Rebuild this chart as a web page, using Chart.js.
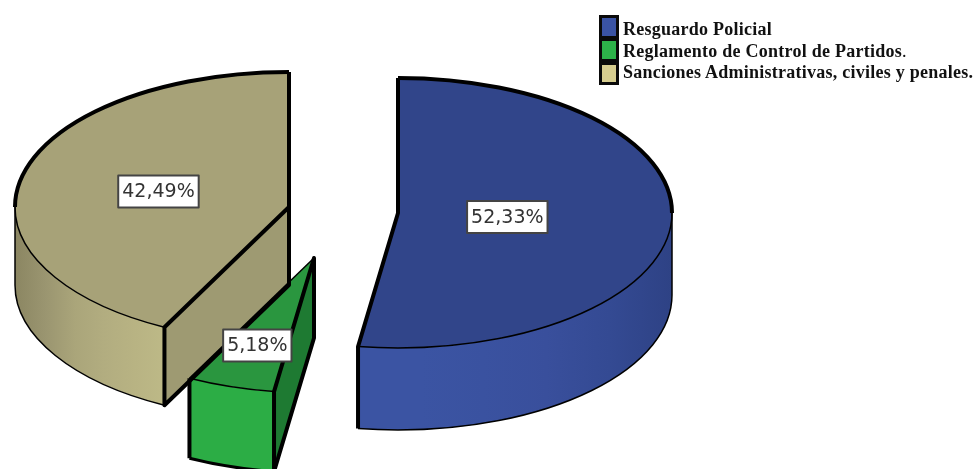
<!DOCTYPE html>
<html>
<head>
    <script src="https://cdn.jsdelivr.net/npm/chart.js@4"></script>
    <style>
        html, body { margin: 0; padding: 0; background: #fff; }
        #wrap { position: relative; width: 977px; height: 469px; overflow: hidden; filter: blur(0.45px); }
        #legend { position: absolute; left: 623px; top: 19px; font: bold 18px "Liberation Serif", serif; letter-spacing: 0.25px; color: #111; }
        #legend div { height: 21.7px; line-height: 21.7px; white-space: nowrap; }
        #legend span { font-weight: normal; }
        #swatches { position: absolute; left: 599px; top: 15px; }
        #swatches i { display: block; box-sizing: border-box; width: 20px; height: 23.5px; margin-bottom: -0.2px; border: 3.5px solid #0a0a0a; }
    </style>
</head>
<body>
    <div id="wrap">
        <canvas id="pieChart" width="977" height="469"></canvas>
        <div id="swatches"></div>
        <div id="legend"></div>
    </div>

    <script>
        const categories = ['Resguardo Policial', 'Reglamento de Control de Partidos', 'Sanciones Administrativas, civiles y penales.'];
        const legendTail = ['', '.', ''];
        const values = [52.33, 5.18, 42.49];
        const valueLabels = ['52,33%', '5,18%', '42,49%'];

        const topColors = ['#31458a', '#2a963f', '#a7a278'];
        const legendColors = ['#3a53a4', '#2db34a', '#d6cd8f'];
        const sideColors = ['#2e4285', '#1e7a32', '#9e9a72'];
        const wallColors = [
            ['#3b54a3', '#3b54a3', '#3a52a0', '#394f9c', '#344a93', '#2e4285'],
            ['#2cad45', '#2cad45'],
            ['#8b8662', '#9a9570', '#aaa57a', '#b2ad80', '#b8b383', '#bdb987']
        ];

        // 3d look
        const pullX = [54.5, -29.5, -54.5];
        const pullY = [2, 47, -4];
        const squash = 135 / 274;
        const depths = [82, 80, 78];
        const labelRadius = [0.40, 0.68, 0.49];

        const pie3d = {
            id: 'pie3d',
            beforeDatasetDraw(chart) {
                const ctx = chart.ctx;
                const arcs = chart.getDatasetMeta(0).data;
                const order = [2, 1, 0];

                const center = i => [arcs[i].x + pullX[i], arcs[i].y + pullY[i]];
                const pt = (i, ang) => {
                    const [cx, cy] = center(i);
                    const r = arcs[i].outerRadius;
                    return [cx + r * Math.cos(ang), cy + r * squash * Math.sin(ang)];
                };
                const line = (pts, w) => {
                    ctx.beginPath();
                    pts.forEach((p, n) => n ? ctx.lineTo(p[0], p[1]) : ctx.moveTo(p[0], p[1]));
                    ctx.lineWidth = w;
                    ctx.lineJoin = 'round';
                    ctx.strokeStyle = '#000';
                    ctx.stroke();
                };
                const edge = (i, a1, a2, drop, w) => {
                    const [cx, cy] = center(i);
                    const r = arcs[i].outerRadius;
                    ctx.beginPath();
                    ctx.ellipse(cx, cy + drop, r, r * squash, 0, a1, a2);
                    ctx.lineWidth = w;
                    ctx.strokeStyle = '#000';
                    ctx.stroke();
                };
                const frontPart = i => [Math.max(arcs[i].startAngle, 0), Math.min(arcs[i].endAngle, Math.PI)];

                // side faces
                order.forEach(i => {
                    const el = arcs[i];
                    const [cx, cy] = center(i);
                    const r = el.outerRadius;
                    const depth = depths[i];
                    if (-Math.cos(el.startAngle) > 0.01) {
                        const a = center(i), b = pt(i, el.startAngle);
                        ctx.beginPath();
                        ctx.moveTo(a[0], a[1]);
                        ctx.lineTo(b[0], b[1]);
                        ctx.lineTo(b[0], b[1] + depth);
                        ctx.lineTo(a[0], a[1] + depth);
                        ctx.closePath();
                        ctx.fillStyle = sideColors[i];
                        ctx.fill();
                    }
                    const [a1, a2] = frontPart(i);
                    const x1 = Math.min(pt(i, a1)[0], pt(i, a2)[0]);
                    const x2 = Math.max(pt(i, a1)[0], pt(i, a2)[0]);
                    const grad = ctx.createLinearGradient(x1, 0, x2, 0);
                    wallColors[i].forEach((c, n) => grad.addColorStop(n / (wallColors[i].length - 1), c));
                    ctx.beginPath();
                    ctx.ellipse(cx, cy, r, r * squash, 0, a1, a2);
                    ctx.ellipse(cx, cy + depth, r, r * squash, 0, a2, a1, true);
                    ctx.closePath();
                    ctx.fillStyle = grad;
                    ctx.fill();
                });

                // top faces, drawn by the arc elements in a flattened context
                order.forEach(i => {
                    ctx.save();
                    ctx.translate(pullX[i], arcs[i].y + pullY[i]);
                    ctx.scale(1, squash);
                    ctx.translate(0, -arcs[i].y);
                    arcs[i].draw(ctx);
                    ctx.restore();
                });

                // outlines
                order.forEach(i => {
                    const el = arcs[i];
                    const depth = depths[i];
                    const [a1, a2] = frontPart(i);
                    const c = center(i);
                    const s = pt(i, el.startAngle), e = pt(i, el.endAngle);
                    if (i === 0) edge(i, el.startAngle, 0, 0, 4);
                    if (i === 2) edge(i, Math.PI, el.endAngle, 0, 4);
                    edge(i, a1, a2, 0, 1.5);
                    edge(i, a1, a2, depth, i === 1 ? 3 : 1.5);

                    if (i === 0) {
                        line([s, c, e, [e[0], e[1] + depth]], 4);
                        const r = pt(i, 0);
                        line([r, [r[0], r[1] + depth]], 1.5);
                    }
                    if (i === 2) {
                        line([e, c, s, [s[0], s[1] + depth], [c[0], c[1] + depth], c], 4);
                        const l = pt(i, Math.PI);
                        line([l, [l[0], l[1] + depth]], 1.5);
                    }
                    if (i === 1) {
                        line([e, c], 1.5);
                        line([e, [e[0], e[1] + depth]], 4);
                        line([s, c, [c[0], c[1] + depth], [s[0], s[1] + depth], s], 4);
                    }
                });

                // value labels
                ctx.font = '19px "DejaVu Sans"';
                ctx.textAlign = 'center';
                ctx.textBaseline = 'middle';
                order.forEach(i => {
                    const el = arcs[i];
                    const mid = (el.startAngle + el.endAngle) / 2;
                    const [cx, cy] = center(i);
                    const lx = cx + el.outerRadius * labelRadius[i] * Math.cos(mid);
                    const ly = cy + el.outerRadius * labelRadius[i] * squash * Math.sin(mid);
                    const w = ctx.measureText(valueLabels[i]).width + 8;
                    ctx.fillStyle = '#fff';
                    ctx.fillRect(lx - w / 2, ly - 16, w, 32);
                    ctx.lineWidth = 2;
                    ctx.strokeStyle = '#444';
                    ctx.strokeRect(lx - w / 2, ly - 16, w, 32);
                    ctx.fillStyle = '#333';
                    ctx.fillText(valueLabels[i], lx, ly + 1);
                });
                return false;
            }
        };

        new Chart(document.getElementById('pieChart'), {
            type: 'pie',
            data: {
                labels: categories,
                datasets: [{
                    data: values,
                    radius: 274,
                    backgroundColor: topColors,
                    borderWidth: 0,
                    clip: false
                }]
            },
            options: {
                responsive: false,
                animation: false,
                events: [],
                layout: { padding: { left: 0, top: 0, right: 290, bottom: 47 } },
                plugins: {
                    legend: { display: false },
                    tooltip: { enabled: false }
                }
            },
            plugins: [pie3d]
        });

        document.getElementById('swatches').innerHTML = legendColors.map(c => `<i style="background:${c}"></i>`).join('');
        document.getElementById('legend').innerHTML = categories.map((c, i) =>
            `<div>${c}<span>${legendTail[i]}</span></div>`
        ).join('');
    </script>
</body>
</html>
